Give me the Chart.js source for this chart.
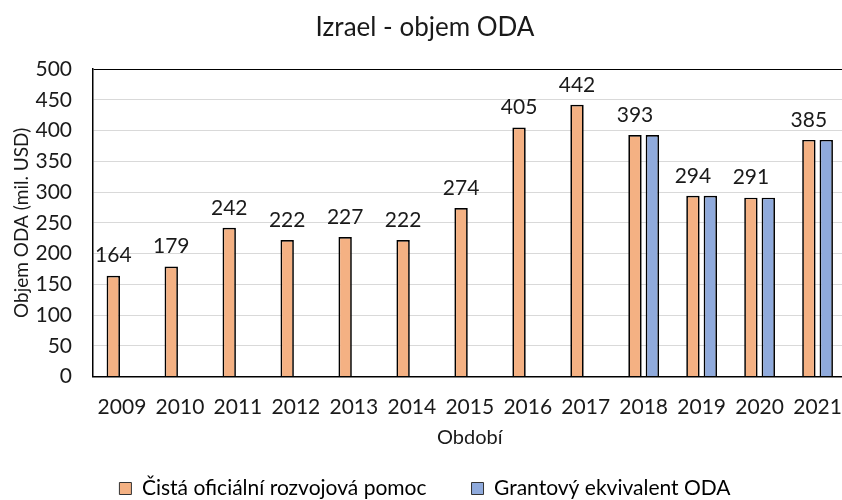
<!DOCTYPE html>
<html>
<head>
<meta charset="utf-8">
<script src="https://cdn.jsdelivr.net/npm/chart.js@4"></script>
<style>
html,body{margin:0;padding:0;overflow:hidden;background:#fff;width:842px;height:500px;}
#wrap{width:852px;height:509px;}
</style>
</head>
<body>
<div id="wrap"><canvas id="c" width="852" height="509"></canvas></div>
<script>
const categories = ['2009','2010','2011','2012','2013','2014','2015','2016','2017','2018','2019','2020','2021'];
const netOda = [164,179,242,222,227,222,274,405,442,393,294,291,385];
const grantEquivalent = [null,null,null,null,null,null,null,null,null,393,294,291,385];
const yTicks = [0,50,100,150,200,250,300,350,400,450,500];
const seriesNames = ['Čistá oficiální rozvojová pomoc','Grantový ekvivalent ODA'];
const chartTitle = 'Izrael - objem ODA';
const xTitle = 'Období';
const yTitle = 'Objem ODA (mil. USD)';

const FONT = 'Lato';
const TXT = '#1a1a1a';

const labelPlugin = {
  id: 'valueLabels',
  afterDatasetsDraw(chart) {
    const ctx = chart.ctx;
    const meta = chart.getDatasetMeta(0);
    ctx.save();
    ctx.font = '21px ' + FONT;
    ctx.fillStyle = TXT;
    ctx.textAlign = 'center';
    ctx.textBaseline = 'middle';
    meta.data.forEach((bar, i) => {
      const v = netOda[i];
      if (v == null) return;
      ctx.fillText(String(v), bar.x, bar.y - 20);
    });
    ctx.restore();
  }
};

new Chart(document.getElementById('c'), {
  type: 'bar',
  data: {
    labels: categories,
    datasets: [
      {label: seriesNames[0], data: netOda, backgroundColor: '#F4B183', borderColor: '#000', borderWidth: 1.7,
       categoryPercentage: 0.6, barPercentage: 0.77},
      {label: seriesNames[1], data: grantEquivalent, backgroundColor: '#8FAADC', borderColor: '#000', borderWidth: 1.7,
       categoryPercentage: 0.6, barPercentage: 0.77}
    ]
  },
  options: {
    responsive: false,
    animation: false,
    layout: {padding: {left: 0, right: 2, top: 0, bottom: 0}},
    plugins: {
      title: {display: true, text: chartTitle, color: TXT, font: {family: FONT, size: 26, weight: 'normal'},
              padding: {top: 12, bottom: 26}},
      legend: {
        position: 'bottom',
        labels: {color: TXT, font: {family: FONT, size: 21}, boxWidth: 12, boxHeight: 12, padding: 45,
          generateLabels(chart) {
            return chart.data.datasets.map((d, i) => ({
              text: d.label, fillStyle: d.backgroundColor, strokeStyle: '#333', lineWidth: 1, datasetIndex: i, hidden: false
            }));
          }
        }
      },
      tooltip: {enabled: false}
    },
    scales: {
      x: {
        grid: {display: false},
        border: {display: true, color: '#000', width: 1.5},
        ticks: {color: TXT, font: {family: FONT, size: 21}, padding: 10, maxRotation: 0},
        title: {display: true, text: xTitle, color: TXT, font: {family: FONT, size: 20}, padding: {top: 0, bottom: -17}},
        afterFit(scale) { scale.height = 56.5; }
      },
      y: {
        min: 0, max: 500,
        afterBuildTicks(scale) { scale.ticks = yTicks.map(v => ({value: v})); },
        grid: {drawTicks: false, lineWidth: 1,
               color: c => (c.tick && c.tick.value === 500) ? '#000' : '#d9d9d9'},
        border: {display: true, color: '#000', width: 1.5},
        ticks: {color: TXT, font: {family: FONT, size: 21}, padding: 21},
        title: {display: true, text: yTitle, color: TXT, font: {family: FONT, size: 19}, padding: {top: 10.6, bottom: 0}},
        afterFit(scale) { scale.width = 93; }
      }
    }
  },
  plugins: [labelPlugin]
});
</script>
</body>
</html>
